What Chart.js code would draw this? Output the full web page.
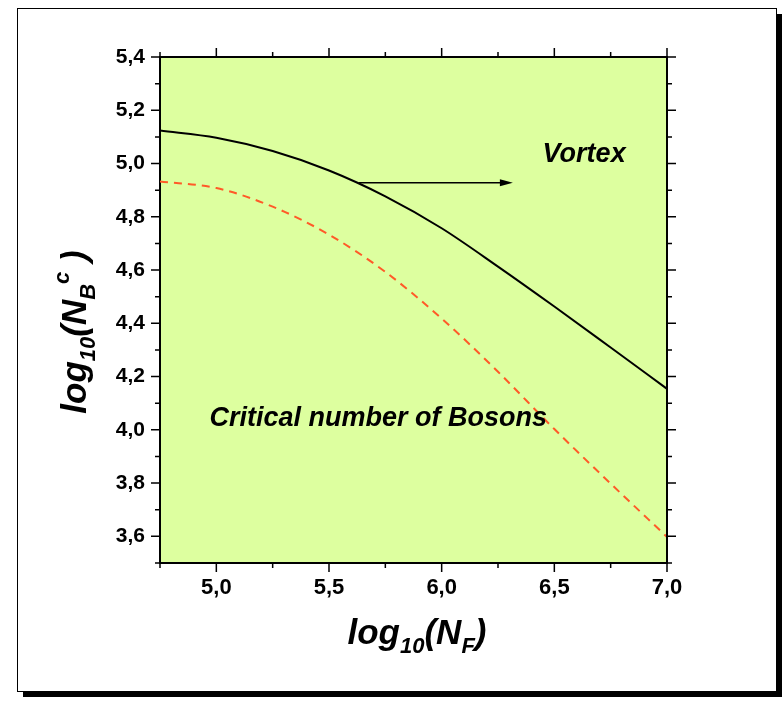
<!DOCTYPE html>
<html><head><meta charset="utf-8">
<script src="https://cdn.jsdelivr.net/npm/chart.js@4.4.1/dist/chart.umd.min.js"></script>
<style>html,body{margin:0;padding:0;background:#fff;}canvas{display:block;}</style>
</head><body>
<canvas id="c" width="782" height="701"></canvas>
<script>
// ---- data ----
const xValues = [4.75, 5.0, 5.25, 5.5, 5.75, 6.0, 6.25, 6.5, 6.75, 7.0];
const vortexValues = [5.124, 5.097, 5.047, 4.974, 4.877, 4.757, 4.613, 4.463, 4.309, 4.154];
const criticalValues = [4.933, 4.908, 4.838, 4.733, 4.593, 4.418, 4.218, 4.003, 3.798, 3.598];
const xTickValues = [5.0, 5.5, 6.0, 6.5, 7.0];
const xMinorValues = [4.75, 5.25, 5.75, 6.25, 6.75];
const yTickValues = [3.6, 3.8, 4.0, 4.2, 4.4, 4.6, 4.8, 5.0, 5.2, 5.4];
const yMinorValues = [3.5, 3.7, 3.9, 4.1, 4.3, 4.5, 4.7, 4.9, 5.1, 5.3];
const arrowFrom = [5.632, 4.928];
const arrowTo = [6.316, 4.928];
const vortexText = ['Vortex', 6.448, 5.005];
const criticalText = ['Critical number of Bosons', 4.97, 4.015];

const FONT = "'Liberation Sans', Arial, sans-serif";
const fmt = v => v.toFixed(1).replace('.', ',');

function drawRich(ctx, parts, cx, cy) {
  let w = 0;
  parts.forEach(p => { ctx.font = 'italic bold ' + p[1] + 'px ' + FONT; w += ctx.measureText(p[0]).width; });
  let x = cx - w / 2;
  ctx.textBaseline = 'alphabetic';
  ctx.textAlign = 'left';
  parts.forEach(p => {
    ctx.font = 'italic bold ' + p[1] + 'px ' + FONT;
    ctx.fillText(p[0], x, cy + p[2]);
    x += ctx.measureText(p[0]).width;
  });
}

const decor = {
  id: 'decor',
  beforeDraw(chart) {
    const ctx = chart.ctx, a = chart.chartArea;
    ctx.save();
    ctx.fillStyle = '#fff';
    ctx.fillRect(0, 0, chart.width, chart.height);
    ctx.fillStyle = '#000';
    ctx.fillRect(23, 14, 759, 683);
    ctx.fillStyle = '#fff';
    ctx.fillRect(17, 8, 759, 683);
    ctx.strokeStyle = '#000';
    ctx.lineWidth = 1;
    ctx.strokeRect(17.5, 8.5, 759, 683);
    ctx.fillStyle = '#DDFF9F';
    ctx.fillRect(a.left, a.top, a.right - a.left, a.bottom - a.top);
    ctx.restore();
  },
  afterDraw(chart) {
    const ctx = chart.ctx, a = chart.chartArea;
    const xs = chart.scales.x, ys = chart.scales.y;
    ctx.save();
    ctx.strokeStyle = '#000';
    ctx.lineWidth = 2;
    ctx.beginPath();
    ctx.moveTo(a.left, a.top); ctx.lineTo(a.right, a.top); ctx.lineTo(a.right, a.bottom);
    ctx.stroke();
    ctx.lineWidth = 1.5;
    ctx.beginPath();
    const tick = (vals, len) => {
      vals.forEach(v => {
        const px = xs.getPixelForValue(v);
        ctx.moveTo(px, a.bottom); ctx.lineTo(px, a.bottom + len);
        ctx.moveTo(px, a.top); ctx.lineTo(px, a.top - len);
      });
    };
    const ytick = (vals, len) => {
      vals.forEach(v => {
        const py = ys.getPixelForValue(v);
        ctx.moveTo(a.left, py); ctx.lineTo(a.left - len, py);
        ctx.moveTo(a.right, py); ctx.lineTo(a.right + len, py);
      });
    };
    tick(xTickValues, 9); tick(xMinorValues, 5);
    ytick(yTickValues, 9); ytick(yMinorValues, 5);
    ctx.stroke();

    // arrow
    const x1 = xs.getPixelForValue(arrowFrom[0]), y1 = ys.getPixelForValue(arrowFrom[1]);
    const x2 = xs.getPixelForValue(arrowTo[0]), y2 = ys.getPixelForValue(arrowTo[1]);
    ctx.lineWidth = 1.5;
    ctx.beginPath(); ctx.moveTo(x1, y1); ctx.lineTo(x2 - 10, y2); ctx.stroke();
    ctx.fillStyle = '#000';
    ctx.beginPath(); ctx.moveTo(x2, y2); ctx.lineTo(x2 - 13, y2 - 3.5); ctx.lineTo(x2 - 13, y2 + 3.5); ctx.closePath(); ctx.fill();

    // annotations
    ctx.fillStyle = '#000';
    ctx.font = 'italic bold 27px ' + FONT;
    ctx.textAlign = 'left'; ctx.textBaseline = 'alphabetic';
    ctx.fillText(vortexText[0], xs.getPixelForValue(vortexText[1]), ys.getPixelForValue(vortexText[2]));
    ctx.fillText(criticalText[0], xs.getPixelForValue(criticalText[1]), ys.getPixelForValue(criticalText[2]));

    // axis titles
    drawRich(ctx, [['log', 35, 0], ['10', 22, 9], ['(N', 35, 0], ['F', 22, 9], [')', 35, 0]], 417, 644);
    ctx.save();
    ctx.translate(86, 332);
    ctx.rotate(-Math.PI / 2);
    drawRich(ctx, [['log', 35, 0], ['10', 22, 9], ['(N', 35, 0], ['B', 22, 9], ['c', 22, -17], [' )', 35, 0]], 0, 0);
    ctx.restore();
    ctx.restore();
  }
};

new Chart(document.getElementById('c'), {
  type: 'scatter',
  data: {
    datasets: [
      { data: xValues.map((x, i) => ({ x, y: vortexValues[i] })), showLine: true, borderColor: '#000', borderWidth: 2, pointRadius: 0, cubicInterpolationMode: 'monotone' },
      { data: xValues.map((x, i) => ({ x, y: criticalValues[i] })), showLine: true, borderColor: '#FF5A28', borderWidth: 2, borderDash: [8, 6], pointRadius: 0, cubicInterpolationMode: 'monotone' }
    ]
  },
  options: {
    responsive: false,
    animation: false,
    devicePixelRatio: 1,
    layout: { padding: { top: 57, right: 115, left: 0, bottom: 0 } },
    plugins: { legend: { display: false }, tooltip: { enabled: false } },
    scales: {
      x: {
        type: 'linear', min: 4.75, max: 7.0,
        afterBuildTicks: s => { s.ticks = xTickValues.map(v => ({ value: v })); },
        afterFit: s => { s.height = 138; },
        grid: { display: false, drawTicks: false },
        border: { display: true, color: '#000', width: 2 },
        ticks: { color: '#000', padding: 12, font: { family: FONT, size: 22, weight: 'bold' }, callback: v => fmt(v), maxRotation: 0, autoSkip: false }
      },
      y: {
        type: 'linear', min: 3.5, max: 5.4,
        afterBuildTicks: s => { s.ticks = yTickValues.map(v => ({ value: v })); },
        afterFit: s => { s.width = 160; },
        grid: { display: false, drawTicks: false },
        border: { display: true, color: '#000', width: 2 },
        ticks: { color: '#000', padding: 15, font: { family: FONT, size: 21, weight: 'bold' }, callback: v => fmt(v), autoSkip: false }
      }
    }
  },
  plugins: [decor]
});
</script>
</body></html>
